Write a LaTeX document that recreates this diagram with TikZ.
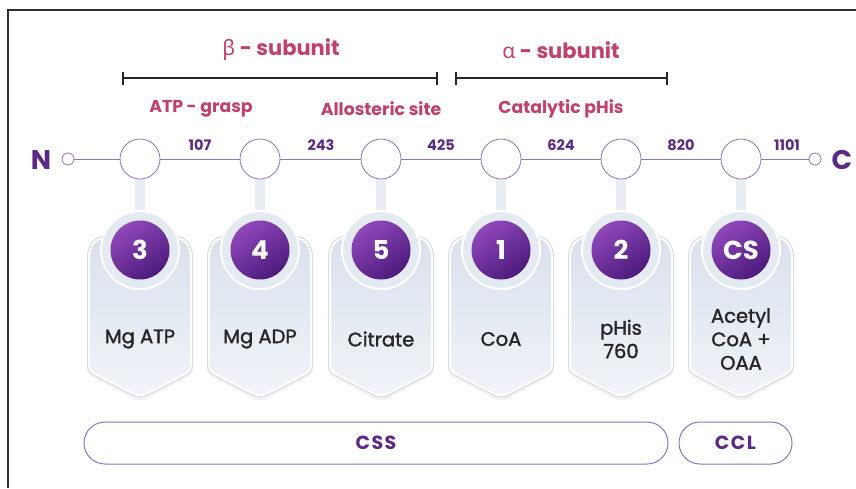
\documentclass[tikz,border=0pt]{standalone}
\usepackage{fontspec}
\setmainfont{Poppins}
\newfontfamily\greekfont{Noto Sans}
\newfontfamily\medfont{Poppins}[FakeBold=1.6]
\usetikzlibrary{arrows.meta}

\definecolor{rose}{HTML}{C2416C}
\definecolor{deep}{HTML}{5B2A86}
\definecolor{lineviolet}{HTML}{9274BC}
\definecolor{shieldtop}{HTML}{D9E1EC}
\definecolor{shieldbot}{HTML}{F1F4F9}
\definecolor{rim}{HTML}{D3DBE7}
\definecolor{halo}{HTML}{E4EAF2}
\definecolor{ballA}{HTML}{4C1A7C}
\definecolor{ballB}{HTML}{9048BA}
\definecolor{ink}{HTML}{262626}
\definecolor{frame}{HTML}{303030}

\tikzset{
  site/.style={circle, draw=lineviolet, line width=0.8pt, fill=white, minimum size=40pt, inner sep=0pt},
  endcap/.style={circle, draw=lineviolet, line width=0.8pt, fill=white, minimum size=12pt, inner sep=0pt},
  axisline/.style={draw=lineviolet, line width=1pt},
  terminus/.style={text=deep, font=\fontsize{27}{27}\selectfont\bfseries},
  resnum/.style={text=deep, font=\fontsize{14.5}{15}\selectfont\bfseries},
  domainlabel/.style={text=rose, font=\fontsize{17.3}{18}\selectfont\bfseries},
  subunitlabel/.style={text=rose, font=\fontsize{21}{22}\selectfont\bfseries},
  spanbar/.style={draw=black!85, line width=1.6pt, {Bar[width=13pt]}-{Bar[width=13pt]}},
  ballnode/.style={circle, minimum size=59pt, inner sep=0pt, top color=ballB, bottom color=ballA,
               shading angle=35, text=white, font=\fontsize{26}{26}\selectfont\bfseries},
  ligand/.style={text=ink, align=center, font=\medfont\fontsize{19.5}{23.5}\selectfont},
  pillnode/.style={draw=lineviolet, line width=1pt, rounded corners=21pt, minimum height=42pt,
               inner sep=0pt, text=deep, font=\fontsize{19}{19}\selectfont\bfseries\addfontfeature{LetterSpace=8}},
}

% shield-shaped badge hanging below a site: x position, id, badge text, ligand text
\newcommand\badge[4]{%
  \begin{scope}[shift={(#1,0)}]
    \fill[halo!80!white] (-5,176) -- (-5,215) -- (5,215) -- (5,176) -- cycle;
    \fill[black, opacity=0.06, rounded corners=6pt]
      (-53,252) -- (-53,374) -- (0,402) -- (53,374) -- (53,252) -- cycle;
    \path[draw=rim, line width=4pt, rounded corners=6pt]
      (-51,250) -- (-51,371) -- (0,397) -- (51,371) -- (51,250) -- (43,238) -- (-43,238) -- cycle;
    \path[top color=shieldtop, bottom color=shieldbot, draw=white, line width=2pt, rounded corners=6pt]
      (-51,250) -- (-51,371) -- (0,397) -- (51,371) -- (51,250) -- (43,238) -- (-43,238) -- cycle;
    \path[fill=halo, draw=white, line width=2pt] (0,250) circle (39);
    \node[ballnode] (b#2) at (0,250) {#3};
    \node[ligand] (l#2) at (0,339) {#4};
  \end{scope}}

\begin{document}
\begin{tikzpicture}[x=1pt, y=-1pt]
  \useasboundingbox (0,0) rectangle (856,488);
  \fill[white] (0,0) rectangle (856,488);

  % open frame along the top and left
  \draw[frame, line width=1.5pt] (8,488) -- (8,10) -- (856,10);

  % badges
  \badge{140}{1}{3}{Mg ATP}
  \badge{260}{2}{4}{Mg ADP}
  \badge{381}{3}{5}{Citrate}
  \badge{501}{4}{1}{CoA}
  \badge{621}{5}{2}{pHis\\760}
  \badge{741}{6}{CS}{Acetyl\\CoA +\\OAA}

  % sequence axis
  \node[endcap] (n0) at (68,159) {};
  \node[endcap] (c0) at (815,159) {};
  \node[site] (s1) at (140,159) {};
  \node[site] (s2) at (260,159) {};
  \node[site] (s3) at (381,159) {};
  \node[site] (s4) at (501,159) {};
  \node[site] (s5) at (621,159) {};
  \node[site] (s6) at (741,159) {};
  \draw[axisline] (n0) -- (s1) -- (s2) -- (s3) -- (s4) -- (s5) -- (s6) -- (c0);

  \node[terminus] (N) at (41,160) {N};
  \node[terminus] (C) at (842,160) {C};

  % residue numbers
  \node[resnum] (r107) at (200,145) {107};
  \node[resnum] (r243) at (321,145) {243};
  \node[resnum] (r425) at (441,145) {425};
  \node[resnum] (r624) at (561,145) {624};
  \node[resnum] (r820) at (681,145) {820};
  \node[resnum] (r1101) at (787,145) {1101};

  % domain names
  \node[domainlabel] (d1) at (201,109) {ATP - grasp};
  \node[domainlabel] (d2) at (381,109) {Allosteric site};
  \node[domainlabel] (d3) at (561,109) {Catalytic pHis};

  % subunit spans
  \coordinate (betaL) at (122,78);
  \coordinate (betaR) at (438,78);
  \coordinate (alphaL) at (455,78);
  \coordinate (alphaR) at (668,78);
  \draw[spanbar] (betaL) -- (betaR);
  \draw[spanbar] (alphaL) -- (alphaR);
  \node[subunitlabel] (beta) at (281,50) {{\greekfont\mdseries β} - subunit};
  \node[subunitlabel] (alpha) at (561,50) {{\greekfont\mdseries α} - subunit};

  % domain bars
  \node[pillnode, minimum width=584pt] (css) at (376,443) {CSS};
  \node[pillnode, minimum width=113pt] (ccl) at (735.5,443) {CCL};
\end{tikzpicture}
\end{document}
